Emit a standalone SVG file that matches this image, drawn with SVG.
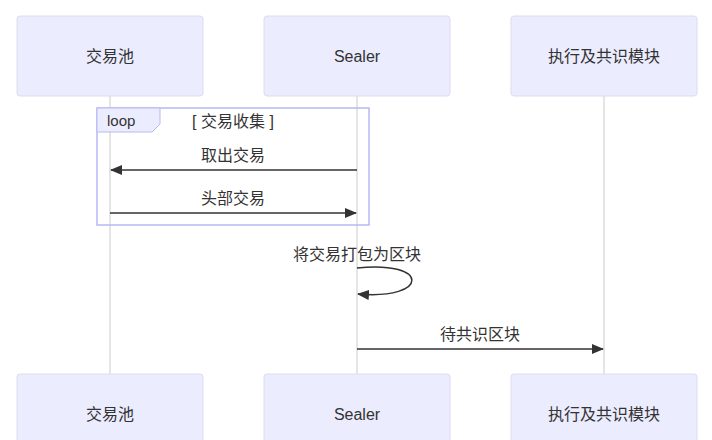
<svg xmlns="http://www.w3.org/2000/svg" width="712" height="440" viewBox="0 0 712 440">
<style>
.actor{fill:#ececff;stroke:#dcdcef;stroke-width:1}
.at{font-family:"Liberation Sans","Noto Sans CJK SC",sans-serif;font-size:16px;fill:#333;text-anchor:middle;dominant-baseline:central}
.life{stroke:#dddddd;stroke-width:1.5}
.msg{stroke:#333;stroke-width:1.5;fill:none}
.mt{font-family:"Liberation Sans","Noto Sans CJK SC",sans-serif;font-size:16px;fill:#333;text-anchor:middle}
</style>
<defs>
<marker id="ah" viewBox="0 0 12 10" refX="11" refY="5" markerWidth="12" markerHeight="10" markerUnits="userSpaceOnUse" orient="auto">
<path d="M0,0 L12,5 L0,10 z" fill="#333"/>
</marker>
</defs>
<rect width="712" height="440" fill="#fff"/>
<g id="lifelines">
<line class="life" x1="110" y1="96" x2="110" y2="374"/>
<line class="life" x1="357" y1="96" x2="357" y2="374"/>
<line class="life" x1="604" y1="96" x2="604" y2="374"/>
</g>
<g id="actor-pool-top"><rect class="actor" x="17" y="16" width="186" height="80" rx="3"/><text class="at" x="110" y="56">交易池</text></g>
<g id="actor-sealer-top"><rect class="actor" x="264" y="16" width="186" height="80" rx="3"/><text class="at" x="357" y="56">Sealer</text></g>
<g id="actor-exec-top"><rect class="actor" x="511" y="16" width="186" height="80" rx="3"/><text class="at" x="604" y="56">执行及共识模块</text></g>
<g id="actor-pool-bottom"><rect class="actor" x="17" y="374" width="186" height="80" rx="3"/><text class="at" x="110" y="414">交易池</text></g>
<g id="actor-sealer-bottom"><rect class="actor" x="264" y="374" width="186" height="80" rx="3"/><text class="at" x="357" y="414">Sealer</text></g>
<g id="actor-exec-bottom"><rect class="actor" x="511" y="374" width="186" height="80" rx="3"/><text class="at" x="604" y="414">执行及共识模块</text></g>
<g id="loop">
<rect x="97" y="108" width="272" height="117" fill="none" stroke="#b8b8f5" stroke-width="1.5"/>
<path d="M97,108 H160 V124 L152,132 H97 z" fill="#ececff" stroke="#b8b8f5" stroke-width="1"/>
<text x="107" y="126" font-family="Liberation Sans,sans-serif" font-size="15" fill="#333">loop</text>
<text class="mt" x="233" y="127">[ 交易收集 ]</text>
</g>
<g id="connectors">
<line class="msg" x1="357" y1="170" x2="111" y2="170" marker-end="url(#ah)"/>
<text class="mt" x="233" y="161">取出交易</text>
<line class="msg" x1="110" y1="213" x2="356" y2="213" marker-end="url(#ah)"/>
<text class="mt" x="233" y="204">头部交易</text>
<path class="msg" d="M357,268 C430,260 430,300 358,294" marker-end="url(#ah)"/>
<text class="mt" x="357" y="260">将交易打包为区块</text>
<line class="msg" x1="357" y1="349" x2="603" y2="349" marker-end="url(#ah)"/>
<text class="mt" x="480" y="340">待共识区块</text>
</g>
</svg>
